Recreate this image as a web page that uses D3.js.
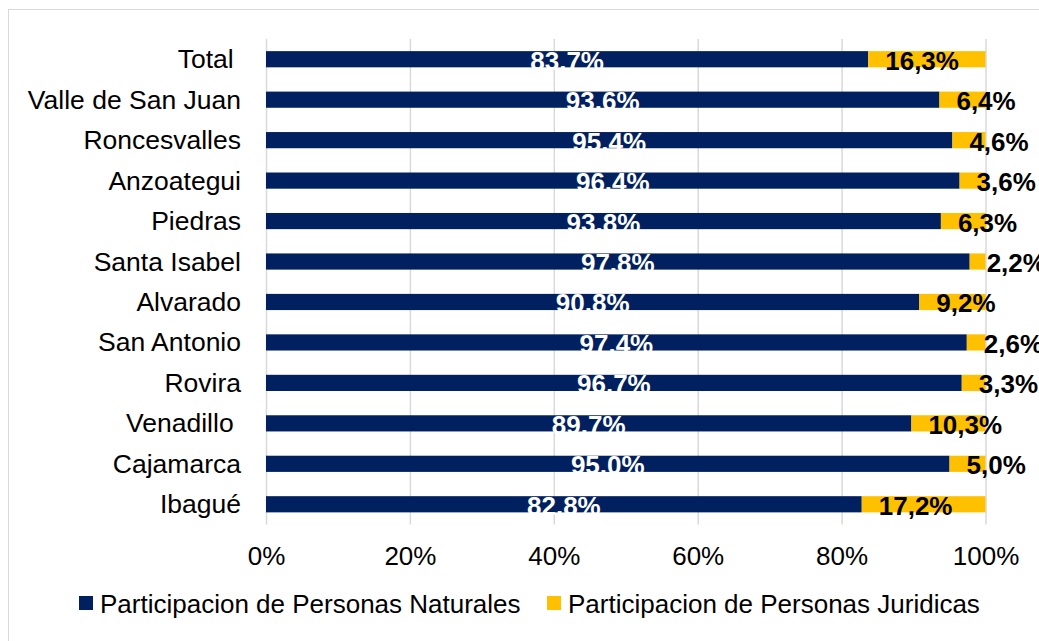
<!DOCTYPE html>
<html>
<head>
<meta charset="utf-8">
<script src="https://cdn.jsdelivr.net/npm/d3@7"></script>
<style>
  body { margin: 0; background: #fff; }
  svg { display: block; font-family: "Liberation Sans", Arial, sans-serif; }
  .cat { white-space: pre; }
</style>
</head>
<body>
<div class="graph_container"></div>
<script>
// data
const categories = ["Total ", "Valle de San Juan", "Roncesvalles", "Anzoategui", "Piedras", "Santa Isabel",
    "Alvarado", "San Antonio", "Rovira", "Venadillo ", "Cajamarca", "Ibagué"];
const naturales = [83.7, 93.6, 95.4, 96.4, 93.8, 97.8, 90.8, 97.4, 96.7, 89.7, 95.0, 82.8];
const juridicas = [16.3, 6.4, 4.6, 3.6, 6.3, 2.2, 9.2, 2.6, 3.3, 10.3, 5.0, 17.2];
const ticks = [0, 20, 40, 60, 80, 100];
const seriesNames = ["Participacion de Personas Naturales", "Participacion de Personas Juridicas"];
const colors = ["#002060", "#FFC000"];

//^ DIMENSIONS //
const W = 1039, H = 641;
const plotLeft = 266, plotRight = 985.5, plotTop = 39, plotBottom = 524.5;

const svg = d3.select(".graph_container").append("svg")
    .attr("width", W).attr("height", H);

// outer frame (extends past the window, as in the picture)
svg.append("rect")
    .attr("x", 8.5).attr("y", 9.5)
    .attr("width", W + 20).attr("height", H + 20)
    .attr("fill", "#fff").attr("stroke", "#d9d9d9");

const x = d3.scaleLinear().domain([0, 100]).range([plotLeft, plotRight]);
const y = d3.scaleBand().domain(categories).range([plotTop, plotBottom]).paddingInner(0.6).paddingOuter(0.3);

//^ GRID + X AXIS //
const xAxis = d3.axisBottom(x).tickValues(ticks).tickFormat(d => d + "%")
    .tickSize(-(plotBottom - plotTop)).tickPadding(22);
const gx = svg.append("g").attr("transform", "translate(0," + plotBottom + ")").call(xAxis);
gx.select(".domain").remove();
gx.selectAll(".tick line").attr("stroke", "#d9d9d9").attr("stroke-width", 1.5);
gx.selectAll(".tick text").attr("fill", "#000").style("font-size", "26px").style("font-family", "Liberation Sans, Arial, sans-serif");

//^ CATEGORY LABELS //
svg.append("g").selectAll("text").data(categories).enter().append("text")
    .attr("class", "cat")
    .attr("x", 241)
    .attr("y", d => y(d) + y.bandwidth() / 2 + 9)
    .attr("text-anchor", "end")
    .style("font-size", "26.5px")
    .attr("fill", "#000")
    .text(d => d);

//^ BARS //
const rows = categories.map((c, i) => ({ cat: c, nat: naturales[i], jur: juridicas[i] }));

svg.append("g").selectAll("rect").data(rows).enter().append("rect")
    .attr("x", x(0))
    .attr("y", d => y(d.cat))
    .attr("width", d => x(d.nat) - x(0))
    .attr("height", y.bandwidth())
    .attr("fill", colors[0]);

svg.append("g").selectAll("rect").data(rows).enter().append("rect")
    .attr("x", d => x(d.nat))
    .attr("y", d => y(d.cat))
    .attr("width", d => x(d.nat + d.jur) - x(d.nat))
    .attr("height", y.bandwidth())
    .attr("fill", colors[1]);

//^ DATA LABELS //
const fmt = d3.format(".1f");
svg.append("g").selectAll("text").data(rows).enter().append("text")
    .attr("x", d => (x(0) + x(d.nat)) / 2)
    .attr("y", d => y(d.cat) + y.bandwidth() / 2 + 10.5)
    .attr("text-anchor", "middle")
    .style("font-size", "26px").style("font-weight", "bold")
    .attr("fill", "#fff")
    .text(d => fmt(d.nat) + "%");

svg.append("g").selectAll("text").data(rows).enter().append("text")
    .attr("x", d => x(d.nat) + 17)
    .attr("y", d => y(d.cat) + y.bandwidth() / 2 + 10.5)
    .attr("text-anchor", "start")
    .style("font-size", "26px").style("font-weight", "bold")
    .attr("fill", "#000")
    .text(d => fmt(d.jur).replace(".", ",") + "%");

//^ LEGEND //
const legendX = [79, 547];
const leg = svg.append("g").selectAll("g").data(seriesNames).enter().append("g")
    .attr("transform", (d, i) => "translate(" + legendX[i] + ",596)");
leg.append("rect").attr("width", 14).attr("height", 14).attr("fill", (d, i) => colors[i]);
leg.append("text").attr("x", 21).attr("y", 17)
    .style("font-size", "26px").attr("fill", "#000")
    .text(d => d);
</script>
</body>
</html>
